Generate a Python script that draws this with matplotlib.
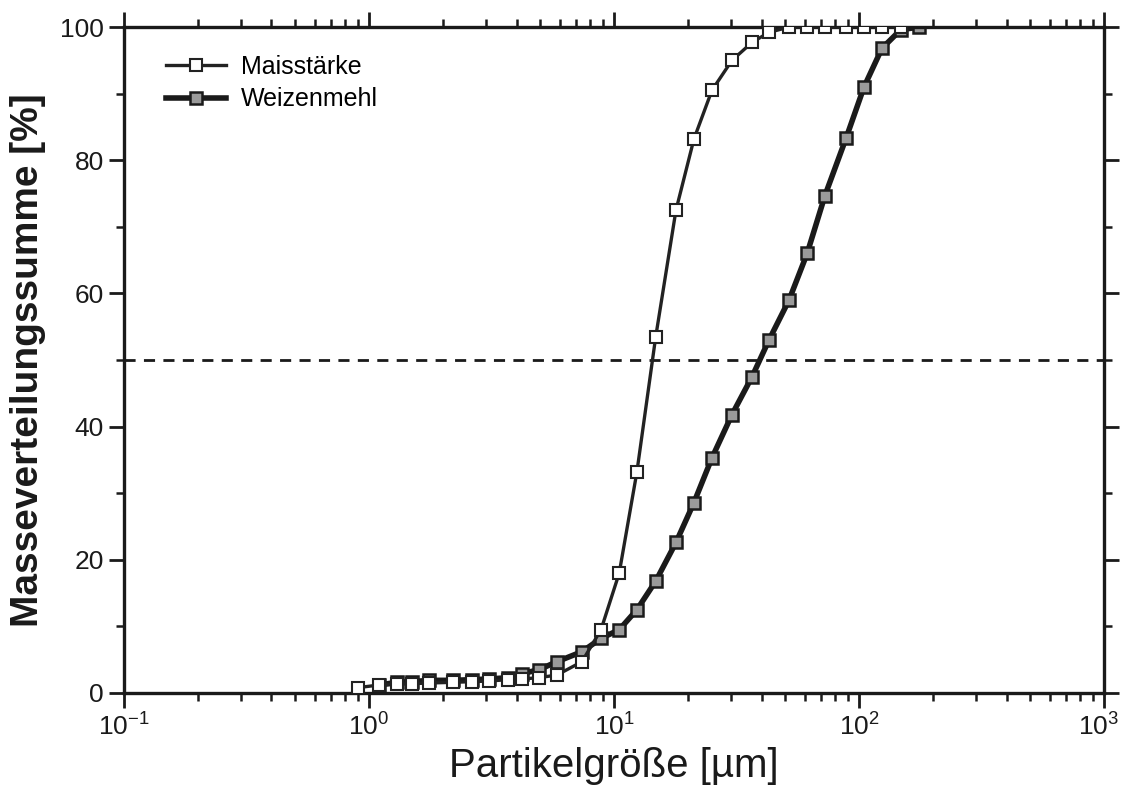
import matplotlib
matplotlib.use("Agg")
import matplotlib.pyplot as plt
from matplotlib.ticker import FixedLocator, LogLocator, NullFormatter
from matplotlib.transforms import ScaledTranslation

plt.rcParams['font.family'] = ['Liberation Sans', 'DejaVu Sans']
plt.rcParams['mathtext.fontset'] = 'custom'
plt.rcParams['mathtext.rm'] = 'Liberation Sans'
plt.rcParams['mathtext.it'] = 'Liberation Sans'

# Data
mais_x = [0.9, 1.1, 1.3, 1.5, 1.76, 2.2, 2.63, 3.09, 3.69, 4.21, 4.94, 5.85, 7.4, 8.85,
          10.5, 12.4, 14.8, 17.9, 21.2, 25.1, 30.3, 36.6, 42.9, 51.8, 61.4, 72.6, 88.5,
          104.8, 124, 148]
mais_y = [0.8, 1.2, 1.3, 1.4, 1.5, 1.6, 1.7, 1.8, 2.0, 2.1, 2.3, 2.7, 4.7, 9.5,
          18.0, 33.2, 53.5, 72.5, 83.2, 90.5, 95.0, 97.7, 99.2, 100, 100, 100, 100,
          100, 100, 100]
weizen_x = [1.1, 1.3, 1.5, 1.76, 2.2, 2.63, 3.09, 3.69, 4.21, 4.94, 5.85, 7.4, 8.85,
            10.5, 12.4, 14.8, 17.9, 21.2, 25.1, 30.3, 36.6, 42.9, 51.8, 61.4, 72.6, 88.5,
            104.8, 124, 148, 176]
weizen_y = [1.2, 1.6, 1.7, 1.9, 1.9, 2.0, 2.1, 2.3, 2.9, 3.5, 4.7, 6.2, 8.2,
            9.5, 12.5, 16.8, 22.6, 28.6, 35.3, 41.8, 47.5, 53.0, 59.0, 66.0, 74.7, 83.3,
            91.0, 96.8, 99.6, 100]
ref_level = 50
x_ticks = [0.1, 1, 10, 100, 1000]
x_tick_labels = [r'$10^{-1}$', r'$10^{0}$', r'$10^{1}$', r'$10^{2}$', r'$10^{3}$']
y_ticks = [0, 20, 40, 60, 80, 100]

fig = plt.figure(figsize=(11.22, 7.98), dpi=100)
ax = fig.add_axes([0.1105, 0.1316, 0.8735, 0.8345])

ax.set_xscale('log')
ax.set_xlim(0.1, 1000)
ax.set_ylim(0, 100)

ax.axhline(ref_level, color='#1a1a1a', lw=2.0, ls=(0, (4, 3)), zorder=1)

ax.plot(mais_x, mais_y, color='#222222', lw=2.4, marker='s', ms=8,
        mfc='white', mec='#222222', mew=1.5, label='Maisstärke', zorder=3)
ax.plot(weizen_x, weizen_y, color='#1a1a1a', lw=4.0, marker='s', ms=9,
        mfc='#9a9a9a', mec='#1a1a1a', mew=1.8, label='Weizenmehl', zorder=2)

ax.xaxis.set_major_locator(FixedLocator(x_ticks))
ax.set_xticklabels(x_tick_labels)
ax.xaxis.set_minor_locator(LogLocator(base=10, subs=range(2, 10)))
ax.xaxis.set_minor_formatter(NullFormatter())
ax.set_yticks(y_ticks)
ax.yaxis.set_minor_locator(FixedLocator(range(10, 100, 20)))

for s in ax.spines.values():
    s.set_linewidth(2.4)
    s.set_color('#1a1a1a')

ax.tick_params(which='both', direction='out', top=True, right=True,
               color='#1a1a1a', labelsize=19, labelcolor='#1a1a1a')
ax.tick_params(which='major', length=11, width=2)
ax.tick_params(which='minor', length=6, width=1.8)
ax.tick_params(axis='x', which='major', pad=4)

# keep the last x tick label inside the figure
last = ax.get_xticklabels()[-1]
last.set_transform(last.get_transform() + ScaledTranslation(-6 / 100, 0, fig.dpi_scale_trans))

ax.set_xlabel('Partikelgröße [µm]', fontsize=29, color='#1a1a1a', labelpad=4)
ax.set_ylabel('Masseverteilungssumme [%]', fontsize=28, fontweight='bold',
              color='#1a1a1a', labelpad=10)

leg = ax.legend(loc='upper left', frameon=False, fontsize=18,
                bbox_to_anchor=(0.025, 0.985), handlelength=2.4,
                handletextpad=0.6, labelspacing=0.35, borderaxespad=0.3)

fig.savefig('out.png', dpi=100)
